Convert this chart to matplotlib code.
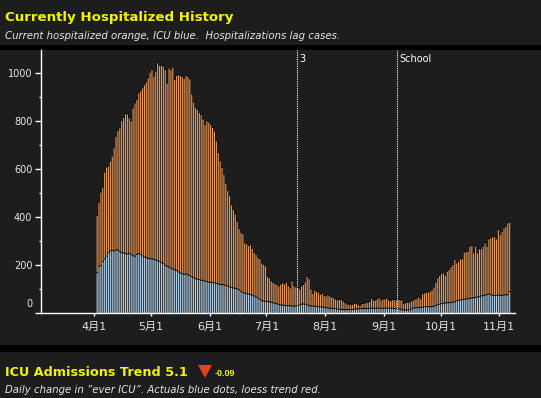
import matplotlib
matplotlib.use('Agg')
import matplotlib.pyplot as plt
import matplotlib.dates as mdates
from matplotlib.patches import Rectangle, Polygon
import pandas as pd

# daily values, starting 2020-04-02
start_date = '2020-04-02'
hospitalized = [
    405, 461, 503, 524, 586, 608, 611, 632, 653, 688,
    736, 760, 771, 801, 813, 829, 829, 813, 801, 854,
    875, 889, 917, 926, 938, 951, 961, 979, 1003, 1014,
    986, 1007, 1042, 1031, 1031, 1028, 1014, 958, 1021, 1014,
    1025, 972, 989, 993, 989, 985, 978, 990, 985, 975,
    912, 878, 856, 848, 835, 826, 808, 785, 800, 795,
    786, 772, 758, 716, 668, 634, 606, 578, 540, 510,
    488, 450, 430, 412, 382, 352, 336, 330, 292, 287,
    280, 284, 268, 252, 244, 232, 226, 208, 202, 196,
    152, 147, 134, 128, 123, 118, 112, 120, 125, 121,
    128, 114, 104, 134, 114, 108, 104, 100, 112, 118,
    130, 152, 142, 100, 82, 95, 90, 86, 77, 82,
    73, 70, 76, 70, 67, 63, 57, 54, 56, 56,
    50, 43, 37, 36, 35, 35, 39, 40, 34, 31,
    39, 40, 42, 45, 47, 60, 53, 53, 58, 64,
    54, 58, 58, 62, 54, 50, 56, 55, 53, 56,
    56, 53, 39, 42, 44, 44, 49, 53, 58, 61,
    67, 58, 81, 83, 86, 86, 90, 97, 108, 128,
    146, 156, 164, 167, 156, 174, 181, 192, 201, 222,
    208, 215, 225, 225, 253, 255, 257, 278, 281, 250,
    278, 250, 267, 267, 278, 292, 278, 308, 313, 317,
    317, 308, 347, 326, 340, 354, 361, 375, 378,
]
icu = [
    167, 194, 197, 214, 225, 236, 250, 258, 260, 258,
    262, 261, 255, 250, 250, 247, 244, 248, 243, 238,
    236, 243, 247, 243, 237, 233, 230, 226, 227, 224,
    223, 220, 217, 214, 210, 205, 198, 194, 191, 186,
    182, 179, 176, 171, 166, 163, 160, 162, 158, 155,
    150, 146, 142, 140, 138, 136, 135, 132, 130, 128,
    127, 126, 125, 122, 120, 118, 118, 116, 114, 112,
    108, 105, 104, 102, 100, 96, 90, 85, 82, 80,
    78, 76, 74, 70, 66, 62, 56, 50, 49, 48,
    47, 46, 44, 42, 40, 38, 35, 33, 32, 31,
    30, 30, 29, 28, 28, 28, 30, 33, 36, 37,
    36, 33, 30, 28, 28, 27, 26, 25, 25, 24,
    23, 22, 20, 19, 19, 18, 17, 16, 15, 14,
    14, 13, 14, 14, 13, 14, 15, 16, 17, 17,
    18, 18, 17, 18, 19, 20, 19, 18, 19, 20,
    19, 18, 19, 20, 19, 18, 19, 18, 17, 17,
    16, 14, 12, 11, 12, 13, 16, 20, 21, 22,
    21, 22, 24, 25, 25, 26, 25, 26, 28, 31,
    34, 36, 38, 40, 41, 42, 42, 43, 44, 46,
    50, 52, 54, 55, 56, 58, 58, 60, 62, 63,
    64, 66, 67, 70, 72, 74, 76, 78, 76, 72,
    72, 73, 74, 73, 72, 74, 75, 76, 88,
]

month_ticks = ['2020-04-01', '2020-05-01', '2020-06-01', '2020-07-01',
               '2020-08-01', '2020-09-01', '2020-10-01', '2020-11-01']
month_labels = ['4月1', '5月1', '6月1', '7月1', '8月1', '9月1', '10月1', '11月1']
y_ticks = [0, 200, 400, 600, 800, 1000]
y_minor = [100, 300, 500, 700, 900]
events = ['2020-07-17', '2020-09-08']
event_labels = ['3', 'School']

PANEL = '#1d1d1d'
ORANGE = '#e69a5e'
BLUE = '#b6d1e7'
YELLOW = '#f4f400'
TXT = '#e6e6e6'
FONT = ['DejaVu Sans', 'Noto Sans CJK JP']
CAP = 4  # black outline above each coloured segment, in data units

W, H = 541, 398
fig = plt.figure(figsize=(W / 100, H / 100), dpi=100)
fig.patch.set_facecolor('black')


def panel(y0, y1):
    # dark grey card, pixel rows y0..y1 from top
    fig.patches.append(Rectangle((0, 1 - y1 / H), 1, (y1 - y0) / H,
                                 transform=fig.transFigure, facecolor=PANEL,
                                 edgecolor='none', zorder=-10))


panel(0, 45)
panel(50, 345)
panel(352, 398)

# titles
fig.text(5 / W, 1 - 21 / H, 'Currently Hospitalized History', color=YELLOW,
         fontsize=9.6, weight='bold', family='DejaVu Sans', va='baseline')
fig.text(5 / W, 1 - 39 / H,
         'Current hospitalized orange, ICU blue.  Hospitalizations lag cases.',
         color=TXT, fontsize=7.3, style='italic', family='DejaVu Sans', va='baseline')
fig.text(5 / W, 1 - 376 / H, 'ICU Admissions Trend 5.1', color=YELLOW,
         fontsize=9.2, weight='bold', family='DejaVu Sans', va='baseline')
fig.patches.append(Polygon([(198 / W, 1 - 365 / H), (212 / W, 1 - 365 / H),
                            (205 / W, 1 - 378 / H)], closed=True,
                           transform=fig.transFigure, facecolor='#e8401e',
                           edgecolor='none', zorder=2))
fig.text(215 / W, 1 - 376 / H, '-0.09', color=YELLOW, fontsize=6.5,
         weight='bold', family='Liberation Sans', va='baseline')
fig.text(5 / W, 1 - 393 / H,
         'Daily change in \u201dever ICU\u201d. Actuals blue dots, loess trend red.',
         color=TXT, fontsize=7.25, style='italic', family='DejaVu Sans', va='baseline')

# main chart
ax = fig.add_axes([40.7 / W, 1 - 313.3 / H, (515 - 40.7) / W, (313.3 - 50) / H])
ax.set_facecolor(PANEL)

dates = pd.date_range(start_date, periods=len(hospitalized), freq='D')
centers = dates + pd.Timedelta(hours=12)
upper = [t - i - CAP for t, i in zip(hospitalized, icu)]
lower = [i + CAP for i in icu]

# black body behind each day, coloured strips on top leave thin black borders
ax.bar(centers, [t + CAP for t in hospitalized], width=1, color='black',
       linewidth=0, zorder=2, snap=False)
ax.bar(centers, upper, bottom=lower, width=0.62, color=ORANGE,
       linewidth=0, zorder=3, snap=False)
ax.bar(centers, icu, width=0.62, color=BLUE, linewidth=0, zorder=3, snap=False)

for d, lab in zip(events, event_labels):
    x = pd.Timestamp(d)
    ax.axvline(x, color='white', linestyle=(0, (1, 1)), linewidth=0.8, zorder=4)
    ax.annotate(lab, xy=(x, 1), xycoords=('data', 'axes fraction'),
                xytext=(2, -3), textcoords='offset points', ha='left', va='top',
                color='white', fontsize=7, family='DejaVu Sans')

x0 = mdates.date2num(pd.Timestamp('2020-04-01'))
x1 = mdates.date2num(pd.Timestamp('2020-11-01'))
ax.set_xlim(x0 - 28.3, x1 + 8.3)
ax.set_ylim(0, 1097)

ax.set_xticks(pd.to_datetime(month_ticks))
ax.set_xticklabels(month_labels, family=FONT, fontsize=8, color=TXT)
ax.set_yticks(y_ticks)
ax.set_yticklabels([''] + [str(v) for v in y_ticks[1:]], family='DejaVu Sans',
                   fontsize=7, color=TXT)
ax.set_yticks(y_minor, minor=True)
ax.annotate('0', xy=(0, 0), xycoords=('axes fraction', 'data'),
            xytext=(-6, 6.5), textcoords='offset points', ha='right', va='center',
            color=TXT, fontsize=7, family='DejaVu Sans')

ax.tick_params(axis='x', length=2.5, width=1, colors='white', pad=4, labelcolor=TXT)
ax.tick_params(axis='y', which='major', length=4, width=1, colors='white', pad=2,
               labelcolor=TXT)
ax.tick_params(axis='y', which='minor', length=1.7, width=1, colors='white')

for side in ['top', 'right']:
    ax.spines[side].set_visible(False)
for side in ['left', 'bottom']:
    ax.spines[side].set_color('white')
    ax.spines[side].set_linewidth(1)
    ax.spines[side].set_zorder(5)

fig.savefig('out.png', dpi=100, facecolor=fig.get_facecolor())
